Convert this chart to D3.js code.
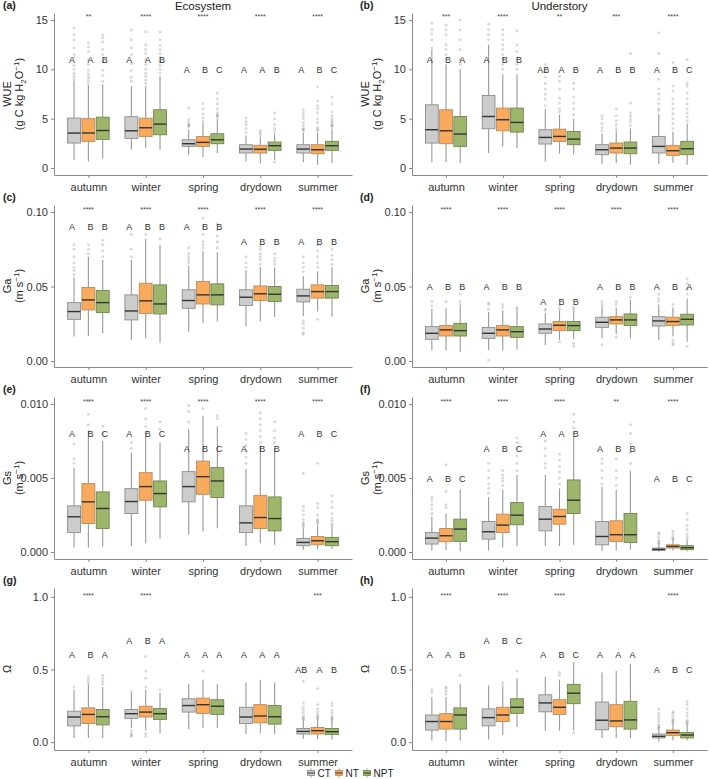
<!DOCTYPE html>
<html>
<head>
<meta charset="utf-8">
<script src="https://cdn.jsdelivr.net/npm/d3@7"></script>
<style>
  body { margin: 0; background: #fff; }
  text { font-family: "Liberation Sans", Arial, sans-serif; }
</style>
</head>
<body>
<svg id="chart" width="709" height="779"></svg>
<script>
// categories
var seasons = ["autumn", "winter", "spring", "drydown", "summer"];
var groups = ["CT", "NT", "NPT"];

// box stats per season: [CT, NT, NPT], each [whiskerLow, q1, median, q3, whiskerHigh, outliers]
var wueEco = [
  [[0.84,2.53,3.54,5.06,8.85,[9.0,9.3,9.6,10.0,10.4,11.2,11.5,12.2,13.0,13.5,14.2]],
   [0.65,2.7,3.55,5.0,8.4,[8.6,8.9,9.2,9.5,9.9,10.5,11.0,11.8,12.3,12.7]],
   [0.95,2.9,3.8,5.15,8.5,[8.8,9.4,9.9,10.8,11.5,12.0,12.8,13.2,13.5]]],
  [[1.85,3.0,3.77,5.2,8.3,[8.8,9.2,9.9,10.6,11.5,12.2,13.0,14.0]],
   [2.0,3.2,4.08,5.05,8.3,[8.6,8.9,9.3,9.6,10.0,10.5,11.0,11.6,12.0,12.5,13.8]],
   [1.85,3.37,4.45,5.9,9.3,[9.6,10.0,10.4,10.8,11.2,11.6,12.0,12.4,13.0,13.8]]],
  [[1.35,2.19,2.46,2.86,3.9,[4.2,4.3,4.4,4.6,4.9,6.1]],
   [1.1,2.19,2.6,3.2,4.6,[4.8,5.1,5.5,6.0,6.5]],
   [1.5,2.46,2.86,3.47,5.0,[5.2,5.3,5.4,5.6,6.0,6.5,7.0,7.6]]],
  [[0.67,1.52,1.92,2.36,3.3,[3.6,4.0,4.4,4.7,5.1]],
   [0.45,1.52,1.9,2.3,3.2,[3.4,3.6,3.8]],
   [0.84,1.79,2.26,2.63,3.5,[3.7,4.0,4.4,5.0,5.6,0.6]]],
  [[0.57,1.52,1.92,2.36,3.6,[3.8,3.9,4.0,4.3,4.6,5.0,5.3,5.6,5.9]],
   [0.34,1.45,1.85,2.36,3.6,[3.8,3.9,4.1,4.6,5.0,5.6,6.0,6.3,6.8,8.2]],
   [0.5,1.79,2.26,2.7,4.0,[4.2,4.3,4.4,4.6,4.8,5.0,5.3,5.7,6.5,7.2]]]
];
var wueUnd = [
  [[0.57,2.53,3.88,6.4,12.0,[12.2,13.0,13.6,14.0,14.7]],
   [0.57,2.46,3.77,5.9,10.5,[11.5,12.0,12.5,13.5,14.0,14.5]],
   [0.5,2.19,3.44,5.22,10.0,[10.5,11.0,12.0,13.0,14.0,15.0]]],
  [[1.52,3.98,5.22,7.35,12.5,[13.0,13.5,14.0,14.6]],
   [2.19,3.77,4.89,6.07,9.5,[10.0,10.5,11.0,11.5,12.0,12.5,13.0,13.5,14.0]],
   [2.0,3.64,4.62,6.07,9.5,[10.0,10.5,11.0,11.8,12.5,13.9]]],
  [[0.67,2.43,3.1,3.88,6.0,[6.3,7.0,7.5,8.0,8.6,9.2,9.8,10.5]],
   [1.45,2.7,3.2,3.94,5.4,[5.7,6.0,6.6,7.1,8.0,8.8,9.3]],
   [1.35,2.36,2.93,3.7,5.0,[5.4,6.0,6.6,7.2,8.0,8.6]]],
  [[0.44,1.35,1.85,2.36,3.5,[3.8,4.1,4.5,5.0,5.3]],
   [0.5,1.52,2.02,2.53,3.8,[4.0,4.4,4.8,5.3,6.0]],
   [0.34,1.45,2.02,2.63,4.0,[4.3,4.7,5.0,5.3,5.6,6.6,11.6]]],
  [[0.4,1.52,2.19,3.2,5.5,[5.8,6.0,6.5,7.0,7.5,8.0,9.0,11.6,13.7]],
   [0.5,1.28,1.75,2.29,3.7,[4.0,4.5,5.0,5.5,6.0,6.5,7.0,7.8,8.3,10.7]],
   [0.34,1.35,1.95,2.7,4.5,[4.8,5.2,5.6,6.0,6.5,7.0,7.6,8.3,8.6,11.0]]]
];
var gaEco = [
  [[0.0164,0.028,0.0332,0.0392,0.056,[0.058,0.061,0.063,0.066,0.07,0.075,0.078]],
   [0.0168,0.0343,0.041,0.0493,0.07,[0.072,0.075,0.078]],
   [0.0186,0.0325,0.0392,0.0473,0.068,[0.07,0.074,0.078,0.081]]],
  [[0.0141,0.0276,0.0336,0.0444,0.068,[0.07,0.075,0.085]],
   [0.0152,0.032,0.0404,0.0522,0.082,[0.085]],
   [0.0123,0.0316,0.0383,0.0511,0.078,[0.082]]],
  [[0.0197,0.0354,0.0406,0.0478,0.064,[0.066,0.068,0.07,0.072,0.076]],
   [0.0253,0.0383,0.0444,0.0534,0.074,[0.076,0.078,0.08,0.085,0.09,0.096]],
   [0.0265,0.0377,0.0444,0.0518,0.073,[0.076,0.08,0.084,0.088,0.092]]],
  [[0.0231,0.0372,0.0428,0.0478,0.061,[0.063,0.066,0.07]],
   [0.0265,0.0406,0.0451,0.0504,0.063,[0.065,0.068,0.07,0.072,0.075,0.077]],
   [0.0298,0.0399,0.0448,0.05,0.063,[0.065,0.067,0.069,0.072]]],
  [[0.030,0.0397,0.0437,0.0482,0.057,[0.06,0.063,0.066,0.07,0.027,0.025,0.022,0.019,0.018]],
   [0.0332,0.0422,0.0466,0.0511,0.06,[0.063,0.066,0.07,0.074,0.078,0.028]],
   [0.0298,0.0422,0.0466,0.0507,0.063,[0.065,0.068,0.071,0.075]]]
];
var gaUnd = [
  [[0.007,0.0146,0.0186,0.0231,0.035,[0.037,0.04]],
   [0.007,0.0168,0.0209,0.0238,0.034,[0.035,0.04]],
   [0.0063,0.0168,0.0204,0.0253,0.037,[0.038,0.04,0.045]]],
  [[0.0074,0.0152,0.0186,0.0226,0.033,[0.035,0.038,0.039,0.0007]],
   [0.007,0.0168,0.0209,0.0238,0.034,[0.036,0.038]],
   [0.0078,0.0159,0.0197,0.0231,0.034,[0.035,0.036]]],
  [[0.0108,0.0186,0.0215,0.0249,0.032,[0.034,0.035]],
   [0.0141,0.0204,0.024,0.0265,0.034,[0.035,0.037,0.013]],
   [0.0146,0.0204,0.0238,0.0265,0.034,[0.035,0.036,0.012,0.01]]],
  [[0.0152,0.0226,0.026,0.0294,0.037,[0.038,0.04,0.011]],
   [0.0182,0.0249,0.0276,0.0298,0.036,[0.038,0.04,0.016]],
   [0.0152,0.0238,0.0276,0.0316,0.041,[0.043]]],
  [[0.0141,0.0235,0.0269,0.0298,0.038,[0.04,0.042,0.045]],
   [0.0164,0.0238,0.0265,0.0294,0.036,[0.038,0.014,0.012,0.011]],
   [0.013,0.0242,0.028,0.0314,0.042,[0.045,0.048,0.052,0.055,0.01]]]
];
var gsEco = [
  [[0.0003,0.00132,0.00238,0.00312,0.0057,[0.006,0.0063,0.0073]],
   [0.0003,0.00193,0.00339,0.00462,0.0082,[0.0086,0.0093,0.0102]],
   [0.00038,0.00159,0.00294,0.00406,0.0075,[0.008,0.0085]]],
  [[0.0004,0.0026,0.00341,0.00428,0.0067,[0.007,0.0074]],
   [0.0006,0.0035,0.00442,0.00536,0.0078,[0.008,0.0085,0.009,0.0097]],
   [0.0009,0.00305,0.00395,0.0048,0.0074,[0.0083,0.0088]]],
  [[0.00117,0.00339,0.00442,0.00543,0.0083,[0.0088,0.0095,0.0099]],
   [0.00139,0.0039,0.00509,0.00614,0.0092,[0.0097]],
   [0.0016,0.00368,0.0048,0.0057,0.0085,[0.009,0.0092]]],
  [[0.0004,0.00132,0.00197,0.00312,0.0056,[0.006,0.0064,0.0068,0.0072,0.0076,0.008]],
   [0.0006,0.00159,0.00233,0.00383,0.0072,[0.0074,0.0078,0.0082,0.0086,0.009,0.0094]],
   [0.0005,0.00143,0.00226,0.00372,0.007,[0.0074,0.0077,0.0082,0.0088]]],
  [[0.00016,0.00043,0.00065,0.00092,0.0016,[0.0017,0.0018,0.0019,0.002,0.0022,0.0025,0.0028,0.0031,0.0053]],
   [0.0002,0.00049,0.00076,0.00105,0.0018,[0.0019,0.002,0.0021,0.0022,0.0025,0.003,0.0033,0.006]],
   [0.0002,0.00043,0.0007,0.00099,0.0017,[0.0018,0.0019,0.0021,0.0023,0.0026,0.003,0.0034,0.0038]]]
];
var gsUnd = [
  [[0.0001,0.00054,0.00094,0.00132,0.0024,[0.0026,0.0029,0.0032,0.0035,0.0037]],
   [0.00013,0.0007,0.0011,0.00159,0.0026,[0.003,0.0032,0.0041,0.0059]],
   [0.00005,0.00072,0.00155,0.00222,0.0042,[]]],
  [[0.0001,0.00087,0.00137,0.00206,0.0037,[0.004,0.0043,0.0046,0.005,0.0055,0.006]],
   [0.0003,0.00132,0.00182,0.00256,0.0042,[0.0045,0.0048,0.005,0.0052,0.0055]],
   [0.0004,0.00184,0.00249,0.00334,0.0052,[0.0055,0.006,0.0065,0.007,0.0074,0.0077]]],
  [[0.0004,0.00143,0.00222,0.00307,0.0052,[0.0057,0.006,0.0065,0.007,0.0075]],
   [0.0004,0.00188,0.0024,0.00289,0.0043,[0.0046,0.005,0.0054,0.0058,0.0062,0.0066]],
   [0.0005,0.0026,0.0035,0.00487,0.0078,[0.008,0.0084,0.0088,0.0093]]],
  [[0.0001,0.00049,0.00105,0.00206,0.0044,[0.0046,0.005,0.0055,0.006,0.0063]],
   [0.0001,0.00072,0.00117,0.00211,0.0042,[0.0045,0.005,0.0055,0.0063]],
   [0.00015,0.00065,0.00117,0.0026,0.0055,[0.006,0.0067,0.0073,0.008,0.0086]]],
  [[0.00002,0.0001,0.00018,0.00027,0.0005,[0.00055,0.0006,0.0007,0.0008,0.001,0.0012,0.0013]],
   [0.0001,0.00027,0.00038,0.00049,0.0008,[0.00085,0.0009,0.001,0.0012,0.0014]],
   [0.00005,0.00016,0.00029,0.00043,0.0008,[0.00085,0.001,0.0012,0.0015,0.0018,0.0022,0.0026]]]
];
var omEco = [
  [[0.029,0.112,0.173,0.213,0.36,[0.38]],
   [0.029,0.128,0.191,0.236,0.4,[0.41,0.43,0.45]],
   [0.029,0.119,0.175,0.225,0.38,[0.4,0.42,0.44,0.46]]],
  [[0.1,0.164,0.196,0.225,0.34,[0.35,0.08,0.06,0.05,0.04]],
   [0.08,0.173,0.207,0.247,0.36,[0.38,0.44,0.49,0.59,0.06,0.04]],
   [0.06,0.157,0.196,0.231,0.34,[0.36]]],
  [[0.09,0.207,0.252,0.299,0.4,[]],
   [0.097,0.198,0.258,0.303,0.43,[0.49]],
   [0.097,0.191,0.247,0.292,0.4,[]]],
  [[0.056,0.128,0.173,0.24,0.41,[]],
   [0.063,0.133,0.18,0.258,0.43,[]],
   [0.056,0.124,0.175,0.252,0.41,[]]],
  [[0.022,0.056,0.074,0.094,0.15,[0.155,0.16,0.17,0.18,0.2,0.22,0.24,0.27,0.42]],
   [0.022,0.056,0.079,0.101,0.16,[0.165,0.17,0.18,0.19,0.21,0.23,0.26,0.37]],
   [0.018,0.052,0.072,0.094,0.15,[0.155,0.16,0.17,0.18,0.2,0.22,0.25,0.27]]]
];
var omUnd = [
  [[0.011,0.083,0.142,0.187,0.31,[0.34,0.36]],
   [0.007,0.09,0.142,0.196,0.31,[0.33,0.35,0.37,0.38]],
   [0.011,0.09,0.187,0.236,0.4,[0.46]]],
  [[0.018,0.112,0.169,0.229,0.39,[]],
   [0.049,0.142,0.187,0.24,0.38,[0.39,0.41]],
   [0.106,0.198,0.24,0.299,0.44,[0.49]]],
  [[0.079,0.209,0.27,0.326,0.45,[]],
   [0.079,0.191,0.24,0.292,0.43,[0.46,0.48]],
   [0.08,0.265,0.337,0.398,0.55,[0.065]]],
  [[0.029,0.085,0.151,0.276,0.48,[]],
   [0.029,0.106,0.146,0.258,0.49,[]],
   [0.029,0.09,0.153,0.281,0.54,[]]],
  [[0.007,0.029,0.04,0.056,0.09,[0.095,0.1,0.11,0.12,0.14,0.16,0.18,0.2,0.23]],
   [0.011,0.045,0.065,0.083,0.13,[0.135,0.14,0.15,0.16,0.18,0.2,0.21]],
   [0.011,0.029,0.049,0.067,0.12,[0.125,0.13,0.14,0.15,0.18,0.2,0.23,0.26,0.28]]]
];

// group letters and their heights
var wueEcoLetters = [["A","A","B"],["A","A","B"],["A","B","C"],["A","A","B"],["A","B","C"]];
var wueEcoLetterY = [11, 11, 10, 10, 10];
var wueUndLetters = [["A","B","A"],["A","B","B"],["AB","A","B"],["A","B","B"],["A","B","C"]];
var wueUndLetterY = [11, 11, 10, 10, 10];
var gaEcoLetters = [["A","B","B"],["A","B","B"],["A","B","B"],["A","B","B"],["A","B","B"]];
var gaEcoLetterY = [0.09, 0.09, 0.09, 0.08, 0.08];
var gaUndLetters = [["A","B","B"],["A","B","B"],["A","B","B"],["A","B","B"],["A","B","A"]];
var gaUndLetterY = [0.05, 0.05, 0.04, 0.05, 0.05];
var gsEcoLetters = [["A","B","C"],["A","B","C"],["A","B","C"],["A","B","B"],["A","B","C"]];
var gsEcoLetterY = [0.008, 0.008, 0.007, 0.007, 0.008];
var gsUndLetters = [["A","B","C"],["A","B","C"],["A","A","B"],["A","B","B"],["A","B","C"]];
var gsUndLetterY = [0.005, 0.007, 0.008, 0.007, 0.005];
var omEcoLetters = [["A","B","A"],["A","B","A"],["A","A","A"],["A","A","A"],["AB","A","B"]];
var omEcoLetterY = [0.6, 0.7, 0.6, 0.6, 0.5];
var omUndLetters = [["A","A","B"],["A","B","C"],["A","B","C"],["A","A","A"],["A","B","C"]];
var omUndLetterY = [0.6, 0.7, 0.6, 0.6, 0.5];

// significance stars
var wueEcoStars = ["**","****","****","****","****"];
var wueUndStars = ["***","****","**","***","****"];
var gaEcoStars = ["****","****","****","****","****"];
var gaUndStars = ["****","****","****","****","****"];
var gsEcoStars = ["****","****","****","****","****"];
var gsUndStars = ["****","****","****","**","****"];
var omEcoStars = ["****","****","","","***"];
var omUndStars = ["****","****","****","","****"];

// ticks
var wueTicks = [0, 5, 10, 15];
var gaTicks = [0, 0.05, 0.10];
var gsTicks = [0, 0.005, 0.010];
var omTicks = [0, 0.5, 1.0];

var fill = {CT: "#cccccc", NT: "#f9aa5c", NPT: "#9db66c"};
var edge = {CT: "#8c8c8c", NT: "#b88a5e", NPT: "#6e8650"};

var colLeft = [54, 412], colRight = [352, 707];
var rowTop = [13, 205, 397, 588], plotH = 162;

var panels = [
  {tag:"(a)", col:0, row:0, stats:wueEco, letters:wueEcoLetters, letterY:wueEcoLetterY, stars:wueEcoStars, starY:15.5, dom:[-0.71,15.71], ticks:wueTicks, fmt:d3.format("d"), yl:"WUE", unit:"wue"},
  {tag:"(b)", col:1, row:0, stats:wueUnd, letters:wueUndLetters, letterY:wueUndLetterY, stars:wueUndStars, starY:15.5, dom:[-0.71,15.71], ticks:wueTicks, fmt:d3.format("d"), yl:"WUE", unit:"wue"},
  {tag:"(c)", col:0, row:1, stats:gaEco, letters:gaEcoLetters, letterY:gaEcoLetterY, stars:gaEcoStars, starY:0.1027, dom:[-0.004,0.1047], ticks:gaTicks, fmt:d3.format(".2f"), yl:"Ga", unit:"ms"},
  {tag:"(d)", col:1, row:1, stats:gaUnd, letters:gaUndLetters, letterY:gaUndLetterY, stars:gaUndStars, starY:0.1027, dom:[-0.004,0.1047], ticks:gaTicks, fmt:d3.format(".2f"), yl:"Ga", unit:"ms"},
  {tag:"(e)", col:0, row:2, stats:gsEco, letters:gsEcoLetters, letterY:gsEcoLetterY, stars:gsEcoStars, starY:0.01025, dom:[-0.00047,0.01047], ticks:gsTicks, fmt:d3.format(".3f"), yl:"Gs", unit:"ms"},
  {tag:"(f)", col:1, row:2, stats:gsUnd, letters:gsUndLetters, letterY:gsUndLetterY, stars:gsUndStars, starY:0.01025, dom:[-0.00047,0.01047], ticks:gsTicks, fmt:d3.format(".3f"), yl:"Gs", unit:"ms"},
  {tag:"(g)", col:0, row:3, stats:omEco, letters:omEcoLetters, letterY:omEcoLetterY, stars:omEcoStars, starY:1.022, dom:[-0.054,1.061], ticks:omTicks, fmt:d3.format(".1f"), yl:"Ω", unit:""},
  {tag:"(h)", col:1, row:3, stats:omUnd, letters:omUndLetters, letterY:omUndLetterY, stars:omUndStars, starY:1.022, dom:[-0.054,1.061], ticks:omTicks, fmt:d3.format(".1f"), yl:"Ω", unit:""}
];

var svg = d3.select("#chart");

svg.append("text").attr("x", (colLeft[0]+colRight[0])/2).attr("y", 10)
  .attr("text-anchor","middle").attr("font-size", 11.5).attr("fill","#222").text("Ecosystem");
svg.append("text").attr("x", (colLeft[1]+colRight[1])/2).attr("y", 10)
  .attr("text-anchor","middle").attr("font-size", 11.5).attr("fill","#222").text("Understory");

panels.forEach(function(p){
  var left = colLeft[p.col], right = colRight[p.col];
  var top = rowTop[p.row], bottom = top + plotH;

  var x = d3.scalePoint().domain(seasons).range([left, right]).padding(0.6);
  var y = d3.scaleLinear().domain(p.dom).range([bottom, top]);
  var slot = x.step() * 0.25, bw = slot * 0.9;
  var g = svg.append("g");

  // axes
  var ya = g.append("g").attr("transform", "translate(" + left + ",0)")
    .call(d3.axisLeft(y).tickValues(p.ticks).tickFormat(p.fmt).tickSize(3).tickSizeOuter(0));
  var xa = g.append("g").attr("transform", "translate(0," + bottom + ")")
    .call(d3.axisBottom(x).tickSize(3).tickSizeOuter(0));
  [ya, xa].forEach(function(a){
    a.select(".domain").attr("stroke", "#888");
    a.selectAll(".tick line").attr("stroke", "#888");
    a.selectAll(".tick text").attr("font-size", 11).attr("fill", "#333")
      .attr("font-family", "Liberation Sans, Arial, sans-serif");
  });
  xa.selectAll(".tick text").attr("dy", "0.95em");

  // panel tag
  g.append("text").attr("x", p.col === 0 ? 3 : 360).attr("y", top - 4)
    .attr("font-size", 10.5).attr("font-weight", "bold").attr("fill", "#222").text(p.tag);

  // y title
  var cy = (top + bottom) / 2;
  g.append("text").attr("transform", "translate(" + (left - 43) + "," + cy + ") rotate(-90)")
    .attr("text-anchor", "middle").attr("font-size", 11).attr("fill", "#222").text(p.yl);
  if (p.unit) {
    var t = g.append("text").attr("transform", "translate(" + (left - 31) + "," + cy + ") rotate(-90)")
      .attr("text-anchor", "middle").attr("font-size", 11).attr("fill", "#222");
    if (p.unit === "wue") {
      t.append("tspan").text("(g C kg H");
      t.append("tspan").attr("font-size", 8).attr("dy", 2.5).text("2");
      t.append("tspan").attr("dy", -2.5).text("O");
      t.append("tspan").attr("font-size", 8).attr("dy", -4).text("\u22121");
      t.append("tspan").attr("dy", 4).text(")");
    } else {
      t.append("tspan").text("(m s");
      t.append("tspan").attr("font-size", 8).attr("dy", -4).text("\u22121");
      t.append("tspan").attr("dy", 4).text(")");
    }
  }

  // boxes
  seasons.forEach(function(s, si){
    groups.forEach(function(gr, gi){
      var d = p.stats[si][gi];
      var cx = x(s) + (gi - 1) * slot;
      // outliers
      g.selectAll(null).data(d[5]).enter().append("circle")
        .attr("cx", cx).attr("cy", function(v){ return y(v); }).attr("r", 1.5)
        .attr("fill", "#444").attr("fill-opacity", 0.2);
      // whiskers
      g.append("line").attr("x1", cx).attr("x2", cx).attr("y1", y(d[0])).attr("y2", y(d[1]))
        .attr("stroke", "#999").attr("stroke-width", 1.1);
      g.append("line").attr("x1", cx).attr("x2", cx).attr("y1", y(d[3])).attr("y2", y(d[4]))
        .attr("stroke", "#999").attr("stroke-width", 1.1);
      g.append("rect").attr("x", cx - bw/2).attr("width", bw)
        .attr("y", y(d[3])).attr("height", Math.max(1, y(d[1]) - y(d[3])))
        .attr("fill", fill[gr]).attr("stroke", edge[gr]).attr("stroke-width", 0.9);
      g.append("line").attr("x1", cx - bw/2).attr("x2", cx + bw/2).attr("y1", y(d[2])).attr("y2", y(d[2]))
        .attr("stroke", "#333").attr("stroke-width", 1.4);
      // letters
      g.append("text").attr("x", cx + (gi === 0 ? -2 : 2)).attr("y", y(p.letterY[si]) + 3.5)
        .attr("text-anchor", "middle").attr("font-size", 9).attr("fill", "#333")
        .text(p.letters[si][gi]);
    });
    if (p.stars[si]) {
      g.append("text").attr("x", x(s)).attr("y", y(p.starY) + 4)
        .attr("text-anchor", "middle").attr("font-size", 7).attr("fill", "#444")
        .text(p.stars[si]);
    }
  });
});

// legend
var leg = svg.append("g").attr("transform", "translate(0,773)");
var lx = [311, 339, 367];
groups.forEach(function(gr, i){
  var cx = lx[i];
  leg.append("line").attr("x1", cx).attr("x2", cx).attr("y1", -4.5).attr("y2", 4.5).attr("stroke", "#999");
  leg.append("rect").attr("x", cx - 3.5).attr("y", -2.5).attr("width", 7).attr("height", 5)
    .attr("fill", fill[gr]).attr("stroke", edge[gr]).attr("stroke-width", 0.8);
  leg.append("line").attr("x1", cx - 3.5).attr("x2", cx + 3.5).attr("y1", 0).attr("y2", 0).attr("stroke", "#333");
  leg.append("text").attr("x", cx + 6.5).attr("y", 3.8).attr("font-size", 10).attr("fill", "#222").text(gr);
});
</script>
</body>
</html>
